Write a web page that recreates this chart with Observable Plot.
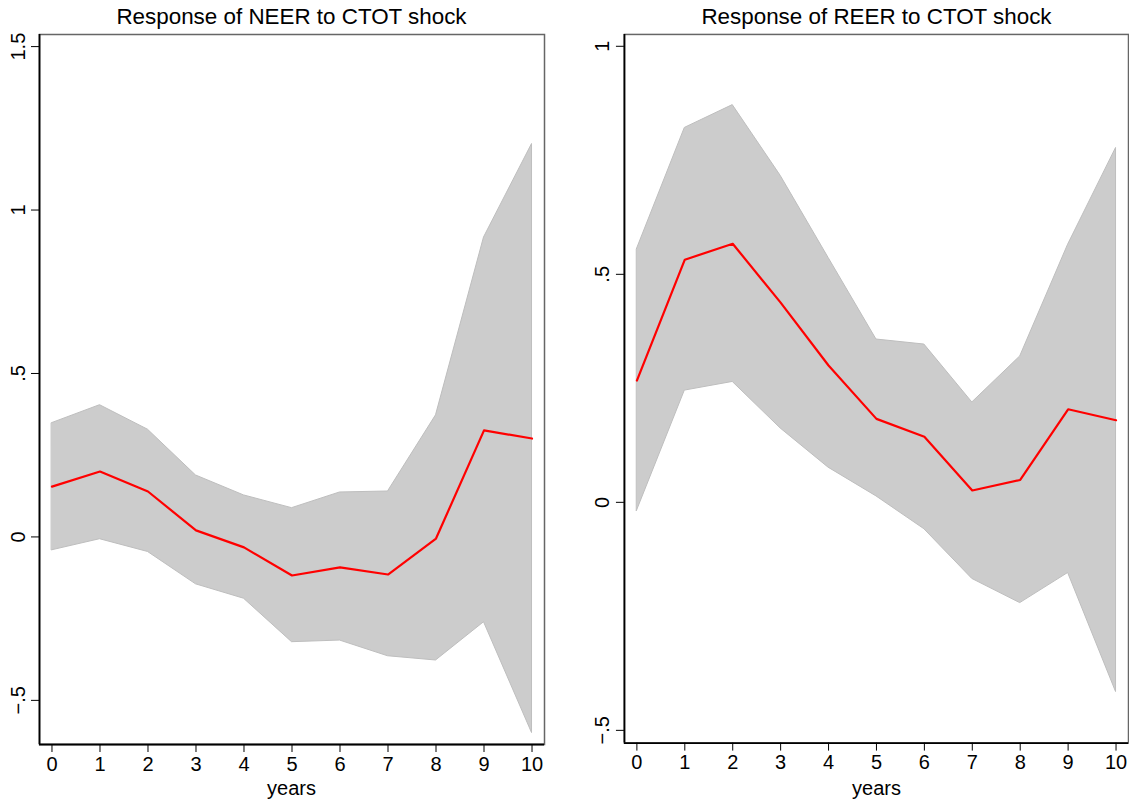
<!DOCTYPE html>
<html><head><meta charset="utf-8">
<script src="https://cdn.jsdelivr.net/npm/d3@7"></script>
<script src="https://cdn.jsdelivr.net/npm/@observablehq/plot@0.6"></script>
<style>
body{margin:0;background:#fff;overflow:hidden;width:1129px;height:802px;position:relative;font-family:"Liberation Sans",Arial,Helvetica,sans-serif;color:#000}
.panel{position:absolute;top:0}
.lbl{position:absolute;white-space:nowrap;transform:translateX(-50%);text-align:center}
.title{font-size:22.4px;top:2px;line-height:30px}
.xlab{font-size:20px;top:776px;line-height:24px}
</style></head><body>
<script>
const years = [0,1,2,3,4,5,6,7,8,9,10];
const neerIrf = [0.154,0.200,0.139,0.020,-0.032,-0.118,-0.093,-0.115,-0.005,0.326,0.301];
const neerLo  = [-0.041,-0.007,-0.046,-0.145,-0.189,-0.322,-0.317,-0.365,-0.378,-0.261,-0.600];
const neerHi  = [0.348,0.403,0.328,0.188,0.127,0.088,0.136,0.139,0.372,0.916,1.202];
const reerIrf = [0.267,0.532,0.567,0.438,0.300,0.183,0.144,0.026,0.049,0.204,0.180];
const reerLo  = [-0.019,0.245,0.264,0.162,0.076,0.013,-0.059,-0.168,-0.221,-0.155,-0.416];
const reerHi  = [0.555,0.821,0.871,0.716,0.536,0.357,0.346,0.219,0.320,0.565,0.777];
const neerTicks = [-0.5,0,0.5,1,1.5];
const reerTicks = [-0.5,0,0.5,1];
const yearTicks = [0,1,2,3,4,5,6,7,8,9,10];
const titles = ["Response of NEER to CTOT shock","Response of REER to CTOT shock"];
const xTitle = "years";

const fmt = d => d === 0 ? "0" : (d < 0 ? "\u2212" : "") + (Math.abs(d) < 1 ? String(Math.abs(d)).slice(1) : String(Math.abs(d)));

function panel({irf, lo, hi, ticks, ydomain, width, marginRight}) {
  const data = years.map((t, i) => ({t, irf: irf[i], lo: lo[i], hi: hi[i]}));
  const xd = [-0.26, 10.26];
  return Plot.plot({
    width, height: 802,
    marginLeft: 39, marginRight, marginTop: 34, marginBottom: 58,
    x: {domain: xd},
    y: {domain: ydomain},
    style: {fontFamily: '"Liberation Sans",Arial,Helvetica,sans-serif', fontSize: "20px", color: "#000", background: "#fff", overflow: "visible"},
    marks: [
      Plot.areaY(data, {x: "t", y1: "lo", y2: "hi", fill: "#cccccc", stroke: "#bebebe", strokeWidth: 1}),
      Plot.line(data, {x: "t", y: "irf", stroke: "#ff0000", strokeWidth: 2.2}),
      Plot.frame({stroke: "#666", strokeWidth: 1.5}),
      Plot.ruleX([xd[0]], {stroke: "#000", strokeWidth: 1.8}),
      Plot.ruleY([ydomain[0]], {stroke: "#000", strokeWidth: 1.8}),
      Plot.axisX({ticks: yearTicks, tickSize: 8, tickPadding: 4, tickFormat: d => String(d), fontSize: "20px", label: null}),
      Plot.axisY({ticks, tickSize: 8, tickPadding: 7, tickRotate: -90, tickFormat: fmt, fontSize: "20px", label: null})
    ]
  });
}

const p1 = panel({irf: neerIrf, lo: neerLo, hi: neerHi, ticks: neerTicks, ydomain: [-0.635, 1.537], width: 564, marginRight: 20});
const p2 = panel({irf: reerIrf, lo: reerLo, hi: reerHi, ticks: reerTicks, ydomain: [-0.528, 1.026], width: 545, marginRight: 1});
const d1 = document.createElement("div"); d1.className = "panel"; d1.style.left = "0px"; d1.appendChild(p1);
const d2 = document.createElement("div"); d2.className = "panel"; d2.style.left = "585px"; d2.appendChild(p2);
document.body.appendChild(d1); document.body.appendChild(d2);

[[titles[0], 291.5], [titles[1], 876.5]].forEach(([t, x]) => {
  const e = document.createElement("div"); e.className = "lbl title"; e.style.left = x + "px"; e.textContent = t; document.body.appendChild(e);
});
[291.5, 876.5].forEach(x => {
  const e = document.createElement("div"); e.className = "lbl xlab"; e.style.left = x + "px"; e.textContent = xTitle; document.body.appendChild(e);
});
</script>
</body></html>
